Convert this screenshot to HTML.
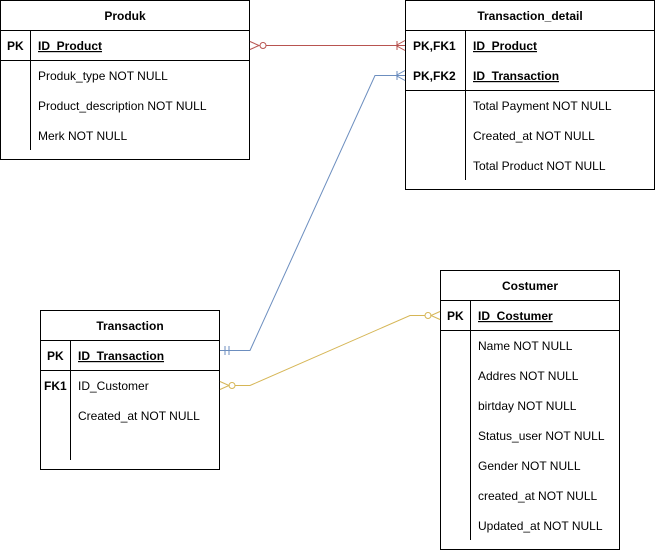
<!DOCTYPE html>
<html><head><style>body{margin:0;background:#fff}svg{display:block}text{font-family:"Liberation Sans",Arial,sans-serif;font-size:12px;fill:#000}</style></head><body>
<svg width="656" height="551" viewBox="0 0 656 551">
<g fill="none" stroke="#000" stroke-width="1">
<rect x="0.5" y="0.5" width="249" height="159"/><line x1="0" y1="30.5" x2="250" y2="30.5"/><line x1="0" y1="60.5" x2="250" y2="60.5"/><line x1="30.5" y1="30" x2="30.5" y2="150"/>
<rect x="405.5" y="0.5" width="249" height="189"/><line x1="405" y1="30.5" x2="655" y2="30.5"/><line x1="405" y1="90.5" x2="655" y2="90.5"/><line x1="465.5" y1="30" x2="465.5" y2="180"/>
<rect x="40.5" y="310.5" width="179" height="159"/><line x1="40" y1="340.5" x2="220" y2="340.5"/><line x1="40" y1="370.5" x2="220" y2="370.5"/><line x1="70.5" y1="340" x2="70.5" y2="460"/>
<rect x="440.5" y="270.5" width="179" height="279"/><line x1="440" y1="300.5" x2="620" y2="300.5"/><line x1="440" y1="330.5" x2="620" y2="330.5"/><line x1="470.5" y1="300" x2="470.5" y2="540"/>
</g>
<g font-weight="bold" text-anchor="middle"><text x="125" y="20">Produk</text><text x="530" y="20">Transaction_detail</text><text x="130" y="330">Transaction</text><text x="530" y="290">Costumer</text></g>
<g font-weight="bold"><text x="7" y="50">PK</text><text x="413" y="50">PK,FK1</text><text x="413" y="80">PK,FK2</text><text x="47" y="360">PK</text><text x="44" y="390">FK1</text><text x="447" y="320">PK</text></g>
<g font-weight="bold" text-decoration="underline"><text x="38" y="50">ID_Product</text><text x="473" y="50">ID_Product</text><text x="473" y="80">ID_Transaction</text><text x="78" y="360">ID_Transaction</text><text x="478" y="320">ID_Costumer</text></g>
<text x="38" y="80">Produk_type NOT NULL</text><text x="38" y="110">Product_description NOT NULL</text><text x="38" y="140">Merk NOT NULL</text>
<text x="473" y="110">Total Payment NOT NULL</text><text x="473" y="140">Created_at NOT NULL</text><text x="473" y="170">Total Product NOT NULL</text>
<text x="78" y="390">ID_Customer</text><text x="78" y="420">Created_at NOT NULL</text>
<text x="478" y="350">Name NOT NULL</text><text x="478" y="380">Addres NOT NULL</text><text x="478" y="410">birtday NOT NULL</text><text x="478" y="440">Status_user NOT NULL</text><text x="478" y="470">Gender NOT NULL</text><text x="478" y="500">created_at NOT NULL</text><text x="478" y="530">Updated_at NOT NULL</text>
<g fill="none" stroke="#b85450">
<line x1="266" y1="45.5" x2="405" y2="45.5"/><circle cx="263" cy="45.5" r="3" fill="#fff"/><path d="M250 41.5 L259 45.5 L250 49.5"/>
<path d="M405 40.5 L396 45.5 L405 50.5 M397 41 V50"/>
</g>
<g fill="none" stroke="#6c8ebf">
<path d="M220 350.5 H250 L375 75.5 H405"/><path d="M405 70.5 L396 75.5 L405 80.5 M397 71 V80"/><path d="M225 346 V355 M229 346 V355"/>
</g>
<g fill="none" stroke="#d6b656">
<path d="M235 385.5 H250 L410 315.5 H425"/><circle cx="232" cy="385.5" r="3" fill="#fff"/><path d="M220 381.5 L229 385.5 L220 389.5"/>
<circle cx="428" cy="315.5" r="3" fill="#fff"/><path d="M440 311.5 L431 315.5 L440 319.5"/>
</g>
</svg>
</body></html>
